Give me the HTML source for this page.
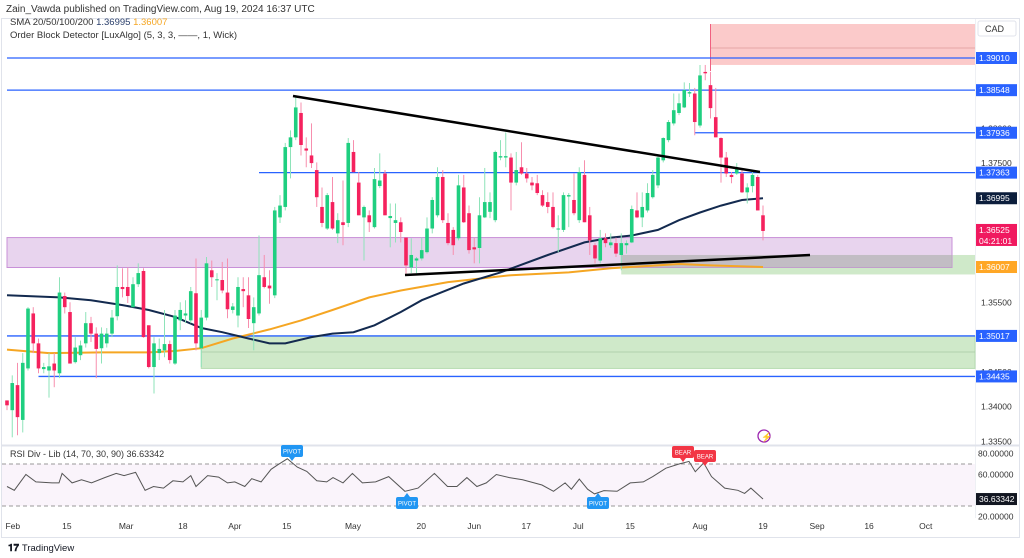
<!DOCTYPE html>
<html><head><meta charset="utf-8">
<style>
html,body{margin:0;padding:0;background:#fff;}
svg{display:block;font-family:"Liberation Sans",sans-serif;}
</style></head>
<body>
<svg id="chart" width="1024" height="558" viewBox="0 0 1024 558" xmlns="http://www.w3.org/2000/svg">
  <rect x="0" y="0" width="1024" height="558" fill="#ffffff"/>
  <text x="6" y="12" font-size="10" fill="#333">Zain_Vawda published on TradingView.com, Aug 19, 2024 16:37 UTC</text>
  <rect x="1.5" y="18.5" width="1018" height="519" fill="none" stroke="#e0e3eb"/>
  <line x1="975.5" y1="19" x2="975.5" y2="518" stroke="#eef0f4"/>
  <line x1="2" y1="445.5" x2="1019" y2="445.5" stroke="#e0e3eb" stroke-width="2"/>
  <g id="zones"></g>
  <g id="hlines"></g>
  <g id="mas"></g>
  <g id="candles"></g>
  <g id="trend"></g>
  <g id="rsi"></g>
  <g id="axis"></g>
  <text x="10" y="25" font-size="9.5" fill="#333">SMA 20/50/100/200 <tspan fill="#2a3f6b">1.36995</tspan> <tspan fill="#f5a623">1.36007</tspan></text>
  <text x="10" y="38" font-size="9.5" fill="#333">Order Block Detector [LuxAlgo] (5, 3, 3, ——, 1, Wick)</text>
  <text x="10" y="457" font-size="9" fill="#333">RSI Div - Lib (14, 70, 30, 90)  36.63342</text>
  <rect x="978" y="21" width="38" height="15" rx="2" fill="#fff" stroke="#e0e3eb"/>
  <text x="985" y="32" font-size="9" fill="#333">CAD</text>
  <g><circle cx="764" cy="436" r="6" fill="none" stroke="#9c27b0" stroke-width="1.3"/><text x="761" y="440" font-size="9" fill="#9c27b0">⚡</text></g>
  <text x="8" y="551" font-size="10" font-weight="bold" fill="#131722">𝟏𝟕 <tspan font-weight="normal" font-size="9.5">TradingView</tspan></text>
</svg>
<script>
const opens=[1.3409,1.3395,1.3431,1.3381,1.3455,1.3534,1.3491,1.3454,1.3452,1.3462,1.3448,1.3559,1.3536,1.3464,1.3474,1.3491,1.3520,1.3505,1.3484,1.3491,1.3505,1.3530,1.3572,1.3572,1.3543,1.3576,1.3595,1.3517,1.3457,1.3477,1.3481,1.3490,1.3462,1.3524,1.3531,1.3524,1.3563,1.3484,1.3528,1.3596,1.3582,1.3582,1.3564,1.3539,1.3531,1.3569,1.3560,1.3520,1.3534,1.3586,1.3574,1.3560,1.3672,1.3687,1.3773,1.3787,1.3822,1.3771,1.3761,1.3740,1.3687,1.3656,1.3694,1.3649,1.3665,1.3664,1.3766,1.3722,1.3672,1.3675,1.3658,1.3717,1.3735,1.3671,1.3664,1.3665,1.3643,1.3600,1.3610,1.3613,1.3622,1.3656,1.3675,1.3730,1.3664,1.3654,1.3642,1.3715,1.3678,1.3629,1.3628,1.3672,1.3680,1.3668,1.3758,1.3758,1.3758,1.3722,1.3744,1.3735,1.3722,1.3721,1.3704,1.3694,1.3687,1.3655,1.3654,1.3702,1.3697,1.3668,1.3733,1.3675,1.3632,1.3610,1.3642,1.3632,1.3635,1.3618,1.3632,1.3636,1.3682,1.3672,1.3682,1.3701,1.3718,1.3754,1.3783,1.3807,1.3822,1.3830,1.3850,1.3850,1.3804,1.3881,1.3862,1.3816,1.3786,1.3758,1.3733,1.3735,1.3735,1.3708,1.3717,1.3730,1.3675];
const highs=[1.3409,1.3445,1.3463,1.3477,1.3543,1.3543,1.3498,1.3463,1.3477,1.3477,1.3586,1.3564,1.3550,1.3500,1.3495,1.3536,1.3529,1.3514,1.3514,1.3513,1.3539,1.3603,1.3599,1.3600,1.3586,1.3606,1.3599,1.3517,1.3500,1.3498,1.3539,1.3495,1.3539,1.3550,1.3553,1.3572,1.3613,1.3539,1.3615,1.3610,1.3592,1.3608,1.3613,1.3549,1.3586,1.3586,1.3586,1.3557,1.3646,1.3618,1.3596,1.3687,1.3704,1.3779,1.3797,1.3845,1.3837,1.3787,1.3807,1.3751,1.3715,1.3707,1.3730,1.3678,1.3725,1.3786,1.3783,1.3737,1.3689,1.3682,1.3743,1.3764,1.3740,1.3692,1.3692,1.3672,1.3643,1.3642,1.3615,1.3643,1.3672,1.3701,1.3744,1.3740,1.3678,1.3658,1.3733,1.3733,1.3689,1.3643,1.3701,1.3743,1.3708,1.3768,1.3783,1.3794,1.3764,1.3766,1.3780,1.3743,1.3730,1.3733,1.3711,1.3708,1.3708,1.3675,1.3708,1.3707,1.3735,1.3744,1.3754,1.3687,1.3635,1.3654,1.3649,1.3649,1.3643,1.3649,1.3639,1.3689,1.3708,1.3708,1.3721,1.3740,1.3761,1.3787,1.3812,1.3850,1.3850,1.3866,1.3865,1.3858,1.3891,1.3891,1.3881,1.3858,1.3787,1.3766,1.3737,1.3750,1.3740,1.3721,1.3740,1.3733,1.3689];
const lows=[1.3395,1.3356,1.3359,1.3363,1.3452,1.3477,1.3448,1.3448,1.3413,1.3428,1.3441,1.3534,1.3462,1.3462,1.3467,1.3485,1.3493,1.3441,1.3462,1.3485,1.3500,1.3524,1.3557,1.3549,1.3543,1.3572,1.3499,1.3455,1.3419,1.3467,1.3471,1.3462,1.3460,1.3510,1.3520,1.3520,1.3481,1.3457,1.3524,1.3572,1.3553,1.3563,1.3527,1.3534,1.3514,1.3543,1.3513,1.3481,1.3531,1.3570,1.3548,1.3556,1.3664,1.3682,1.3728,1.3783,1.3761,1.3744,1.3743,1.3687,1.3658,1.3654,1.3654,1.3635,1.3632,1.3658,1.3737,1.3675,1.3610,1.3651,1.3656,1.3714,1.3675,1.3629,1.3636,1.3636,1.3589,1.3592,1.3592,1.3610,1.3620,1.3649,1.3672,1.3664,1.3632,1.3618,1.3639,1.3664,1.3620,1.3606,1.3606,1.3671,1.3671,1.3665,1.3754,1.3744,1.3682,1.3718,1.3733,1.3722,1.3711,1.3704,1.3687,1.3678,1.3656,1.3622,1.3651,1.3658,1.3675,1.3664,1.3665,1.3618,1.3606,1.3606,1.3629,1.3628,1.3615,1.3596,1.3620,1.3635,1.3671,1.3658,1.3679,1.3699,1.3714,1.3751,1.3780,1.3804,1.3819,1.3829,1.3845,1.3790,1.3801,1.3869,1.3814,1.3787,1.3722,1.3730,1.3721,1.3733,1.3707,1.3692,1.3708,1.3682,1.3639];
const closes=[1.3402,1.3434,1.3385,1.3463,1.3541,1.3491,1.3455,1.3457,1.3458,1.3452,1.3564,1.3543,1.3462,1.3485,1.3488,1.3520,1.3505,1.3483,1.3505,1.3505,1.3528,1.3572,1.3569,1.3559,1.3576,1.3592,1.3500,1.3457,1.3491,1.3483,1.3490,1.3467,1.3531,1.3539,1.3534,1.3566,1.3491,1.3528,1.3606,1.3586,1.3583,1.3567,1.3540,1.3544,1.3572,1.3566,1.3526,1.3543,1.3589,1.3572,1.3570,1.3682,1.3689,1.3773,1.3787,1.3830,1.3776,1.3768,1.3750,1.3701,1.3664,1.3704,1.3656,1.3668,1.3661,1.3779,1.3737,1.3675,1.3687,1.3665,1.3727,1.3725,1.3675,1.3674,1.3668,1.3651,1.3603,1.3618,1.3613,1.3625,1.3656,1.3697,1.3730,1.3668,1.3635,1.3632,1.3718,1.3665,1.3625,1.3626,1.3675,1.3694,1.3694,1.3766,1.3760,1.3760,1.3722,1.3740,1.3735,1.3728,1.3718,1.3707,1.3689,1.3687,1.3658,1.3656,1.3704,1.3704,1.3678,1.3737,1.3665,1.3639,1.3613,1.3642,1.3635,1.3636,1.3620,1.3635,1.3635,1.3684,1.3672,1.3687,1.3707,1.3733,1.3758,1.3786,1.3809,1.3826,1.3836,1.3855,1.3852,1.3809,1.3876,1.3879,1.3829,1.3787,1.3758,1.3735,1.3730,1.3743,1.3708,1.3715,1.3733,1.3682,1.36525];
const sma100Idx=[0,10,16,22,27,32,37,41,46,50,53,58,62,66,70,75,79,87,94,103,110,115,119,124,128,132,136,140,144];
const sma100Val=[1.3560,1.3557,1.3553,1.3546,1.3539,1.3529,1.3513,1.3507,1.3498,1.3491,1.3491,1.3500,1.3505,1.3507,1.3517,1.3536,1.3553,1.3577,1.3593,1.3618,1.3636,1.3643,1.3646,1.3654,1.3668,1.3679,1.3689,1.3697,1.36995];
const sma200Idx=[0,8,18,27,32,37,43,50,56,62,69,75,84,96,107,115,128,134,144];
const sma200Val=[1.3482,1.3477,1.3478,1.3478,1.3480,1.3484,1.3498,1.3511,1.3524,1.3539,1.3557,1.3567,1.3579,1.3589,1.3593,1.3599,1.3605,1.3603,1.36007];
const rsiIdx=[0,1.4,3.6,5.5,8.6,9.9,10.5,12.4,14.2,16.1,18.6,20.8,22.3,24.5,26.3,27.9,29.8,31.6,33.5,35,36,38.2,40.3,42,43.4,45.3,46.6,48.4,50.3,51.5,53.4,55.3,57.1,59,60.9,62.1,64,65.8,67.7,70.2,72.7,75.8,78.3,81.4,83.9,85.7,87.6,89.5,91.3,93.2,95.7,98.2,101.9,104.1,106.3,107.5,109,110.6,111.9,113.7,116.2,118.7,121.2,123,125.5,128,129.9,131.1,132.7,134.2,136.7,139.2,140.5,141.7,144];
const rsiVal=[48.6,45,60,53,52,52,61,52,55,52,57,61,59,62,45,48.6,47,54,53,59,48.6,59,57.5,52,53,48.6,56,53,65,69,75,67,63,54,53,57,52,61,52,53,58,44,47,61,48.6,48.6,57,48.6,52,60,57,55,50,44,52,46,55.6,46,41.5,44.7,44,52,53,58,66,70,72.5,62.7,71,58,47,45,42,47,36.63];
const priceTicks=[1.38000,1.37500,1.35500,1.34500,1.34000,1.33500];
const dateLabels=["Feb","15","Mar","18","Apr","15","May","20","Jun","17","Jul","15","Aug","19","Sep","16","Oct"];
const dateIdx=[1.1,11.4,22.7,33.5,43.4,53.3,65.9,78.9,89,98.9,108.8,118.7,132,144,154.3,164.2,175];
const levelVals=[1.39010,1.38548,1.37936,1.37363,1.35017,1.34435];
const levelStartIdx=[0,0,131,48,0,6];

const NS="http://www.w3.org/2000/svg";
function X(i){return 7+i*5.25;}
function Y(p){return 58+(1.3901-p)*6960;}
function RY(v){return 464+(70-v)*1.05;}
function mk(tag,attrs,parent){const e=document.createElementNS(NS,tag);for(const k in attrs)e.setAttribute(k,attrs[k]);parent.appendChild(e);return e;}
const G=id=>document.getElementById(id);

// zones
const zones=G('zones');
let z;
z=mk('rect',{x:710,y:24,width:265,height:Y(1.3891)-24,fill:'#f9b8b8',opacity:0.75},zones);


z=mk('line',{x1:710,y1:48,x2:975,y2:48,stroke:'#d99',"stroke-width":0.8},zones);


z=mk('line',{x1:710.5,y1:24,x2:710.5,y2:71,stroke:'#f06080',"stroke-width":1},zones);


z=mk('rect',{x:X(117),y:Y(1.3618),width:975-X(117),height:Y(1.3590)-Y(1.3618),fill:'#cfe9c9'},zones);


z=mk('rect',{x:X(37),y:Y(1.35017),width:975-X(37),height:Y(1.3455)-Y(1.35017),fill:'#cfe9c9',stroke:'#b5dbb0'},zones);


z=mk('line',{x1:X(37),y1:352,x2:975,y2:352,stroke:'#a9c9a3',"stroke-width":0.8},zones);


z=mk('rect',{x:7,y:Y(1.3643),width:945,height:Y(1.3600)-Y(1.3643),fill:'#e8d4ee',stroke:'#c890d8'},zones);


z=mk('rect',{x:X(117),y:Y(1.3618),width:952-X(117),height:Y(1.3600)-Y(1.3618),fill:'#b5b5b5',opacity:0.75},zones);



// horizontal levels
const hl=G('hlines');
for(let k=0;k<levelVals.length;k++){
  const l=mk('line',{x1:X(levelStartIdx[k]),y1:Y(levelVals[k]),x2:975,y2:Y(levelVals[k]),stroke:'#2962ff',"stroke-width":1.3},hl);
  
  
}

// moving averages
const mas=G('mas');
function path(ix,vals,f){return ix.map((i,k)=>(k?'L':'M')+X(i).toFixed(1)+' '+f(vals[k]).toFixed(1)).join(' ');}
let m=mk('path',{d:path(sma200Idx,sma200Val,Y),fill:'none',stroke:'#f5a623',"stroke-width":2},mas);


m=mk('path',{d:path(sma100Idx,sma100Val,Y),fill:'none',stroke:'#132a4f',"stroke-width":2},mas);



// candles
const cg=G('candles');
for(let i=0;i<opens.length;i++){
  const up=closes[i]>=opens[i];
  const col=up?'#1fcf80':'#f5225e';
  const wcol=up?'#8ee3b9':'#f78fae';
  const x=X(i);
  const w=mk('line',{x1:x,y1:Y(highs[i]),x2:x,y2:Y(lows[i]),stroke:wcol,"stroke-width":1},cg);
  
  
  const t=Y(Math.max(opens[i],closes[i])),b=Y(Math.min(opens[i],closes[i]));
  const r=mk('rect',{x:x-1.8,y:t,width:3.6,height:Math.max(1,b-t),fill:col},cg);
  
  
}

// trendlines
const tg=G('trend');
let tl=mk('line',{x1:293,y1:96,x2:760,y2:172,stroke:'#000',"stroke-width":2.5},tg);


tl=mk('line',{x1:405,y1:275,x2:810,y2:255,stroke:'#000',"stroke-width":2.5},tg);



// RSI pane
const rg=G('rsi');
let rb=mk('rect',{x:2,y:RY(70),width:973,height:RY(30)-RY(70),fill:'#faf4fb'},rg);


[70,30].forEach(v=>{
  const d=mk('line',{x1:2,y1:RY(v),x2:975,y2:RY(v),stroke:'#999',"stroke-dasharray":'4 3',"stroke-width":1},rg);
  
  
});
let rl=mk('path',{d:path(rsiIdx,rsiVal,RY),fill:'none',stroke:'#555',"stroke-width":1},rg);


function tag(cx,ty,txt,col,down){
  const g=mk('g',{},rg);
  
  
  mk('rect',{x:cx-11,y:ty,width:22,height:12,rx:2,fill:col},g);
  mk('path',{d:down?`M${cx-3} ${ty+12} L${cx+3} ${ty+12} L${cx} ${ty+16}Z`:`M${cx-3} ${ty} L${cx+3} ${ty} L${cx} ${ty-4}Z`,fill:col},g);
  const t=mk('text',{x:cx,y:ty+8.5,"font-size":6,fill:'#fff',"text-anchor":'middle'},g);t.textContent=txt;
}
tag(292,445,'PIVOT','#2196f3',true);
tag(407,497,'PIVOT','#2196f3',false);
tag(598,497,'PIVOT','#2196f3',false);
tag(683,446,'BEAR','#f23645',true);
tag(705,450,'BEAR','#f23645',true);

// axes
const ag=G('axis');
priceTicks.forEach(p=>{
  const t=mk('text',{x:981,y:Y(p)+3,"font-size":8.5,fill:'#333'},ag);
  
  
  t.textContent=p.toFixed(5);
});
[[80,'80.00000'],[60,'60.00000'],[20,'20.00000']].forEach(a=>{
  const t=mk('text',{x:978,y:RY(a[0])+3,"font-size":8.5,fill:'#333'},ag);
  
  
  t.textContent=a[1];
});
function badge(y,txt,bg,h,extra){
  const g=mk('g',{},ag);
  
  
  mk('rect',{x:976,y:y-6,width:41,height:h||12,fill:bg},g);
  const t=mk('text',{x:979,y:y+3,"font-size":8.5,fill:'#fff'},g);t.textContent=txt;
  if(extra){const t2=mk('text',{x:979,y:y+14,"font-size":8.5,fill:'#fff'},g);t2.textContent=extra;}
}
levelVals.forEach(v=>badge(Y(v),v.toFixed(5),'#2962ff'));
badge(Y(1.36995),'1.36995','#0c1e3c');
badge(Y(1.36525)-1,'1.36525','#f0195f',22,'04:21:01');
badge(Y(1.36007),'1.36007','#ffa726');
badge(RY(36.63),'36.63342','#131722');
for(let k=0;k<dateLabels.length;k++){
  const t=mk('text',{x:X(dateIdx[k]),y:529,"font-size":8.5,fill:'#333',"text-anchor":'middle'},ag);
  
  
  t.textContent=dateLabels[k];
}
</script>
</body></html>
